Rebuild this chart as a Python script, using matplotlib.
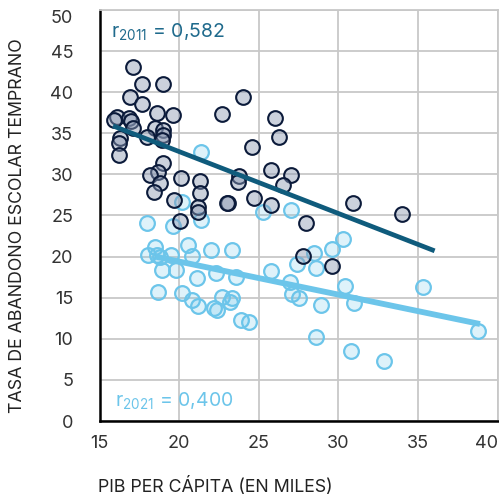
import matplotlib
matplotlib.use("Agg")
import matplotlib.pyplot as plt
import numpy as np

# PIB per capita (miles) vs tasa de abandono escolar temprano, 2011 y 2021
pib_2011 = [17.1, 17.7, 19.0, 16.9, 17.7, 18.6, 19.6, 16.1, 15.9, 16.85, 17.0, 17.1,
            18.5, 19.0, 19.0, 18.9, 18.0, 16.3, 16.2, 16.2, 19.0, 18.7, 18.2, 18.8,
            18.4, 20.1, 21.3, 21.3, 19.7, 21.2, 21.2, 20.05, 23.1, 23.0, 24.0, 22.7,
            26.0, 26.3, 24.6, 25.8, 27.0, 23.75, 23.7, 26.5, 24.7, 25.8, 30.9, 34.0,
            28.0, 27.8, 29.6]
abandono_2011 = [43.1, 41.0, 41.0, 39.4, 38.6, 37.5, 37.2, 37.0, 36.6, 36.9, 36.5, 35.6,
                 35.6, 35.4, 34.8, 34.2, 34.5, 34.4, 33.8, 32.4, 31.4, 30.3, 29.9, 29.0,
                 27.9, 29.6, 29.2, 27.7, 26.9, 26.0, 25.4, 24.3, 26.5, 26.5, 39.4, 37.3,
                 36.9, 34.5, 33.3, 30.5, 29.9, 29.8, 29.1, 28.7, 27.1, 26.3, 26.5, 25.2,
                 24.1, 20.1, 18.9]

pib_2021 = [21.4, 20.2, 25.3, 27.0, 18.0, 19.6, 21.4, 18.5, 18.05, 18.6, 18.8, 19.5,
            20.55, 20.8, 22.0, 23.3, 18.9, 19.8, 21.1, 22.3, 23.6, 18.7, 20.2, 20.8,
            21.2, 22.2, 22.4, 22.7, 23.3, 23.2, 23.9, 24.4, 30.3, 29.6, 28.5, 27.4,
            28.6, 25.75, 26.95, 30.4, 27.1, 27.5, 28.9, 31.0, 35.3, 38.8, 28.6, 30.8,
            32.9]
abandono_2021 = [32.7, 26.6, 25.4, 25.7, 24.1, 23.7, 24.4, 21.2, 20.2, 20.2, 20.0, 20.2,
                 21.4, 20.1, 20.8, 20.8, 18.4, 18.4, 17.4, 18.0, 17.5, 15.7, 15.6, 14.7,
                 14.0, 13.7, 13.5, 15.1, 15.0, 14.5, 12.3, 12.0, 22.1, 20.9, 20.4, 19.1,
                 18.6, 18.3, 16.9, 16.4, 15.5, 15.0, 14.1, 14.4, 16.3, 10.9, 10.2, 8.5,
                 7.3]

# lineas de tendencia (extremos)
tend_2011_x = [15.85, 36.05]
tend_2011_y = [35.9, 20.7]
tend_2021_x = [18.5, 38.9]
tend_2021_y = [20.0, 11.8]

r_2011 = "0,582"
r_2021 = "0,400"

DARK_EDGE = "#0b1a3a"
DARK_FACE = (0.55, 0.60, 0.70, 0.45)
LIGHT = "#6cc5ea"
LIGHT_FACE = (0.42, 0.77, 0.92, 0.22)
TEAL = "#0f5b7c"
TEAL_TXT = "#1f6a8c"

plt.rcParams["font.family"] = ["Inter", "DejaVu Sans"]
plt.rcParams["mathtext.fontset"] = "custom"
plt.rcParams["mathtext.rm"] = "Inter"

fig = plt.figure(figsize=(4.99, 5.01), dpi=100)
ax = fig.add_axes([99.5 / 499, 80 / 501, 398 / 499, 411 / 501])

ax.scatter(pib_2021, abandono_2021, s=112, facecolors=[LIGHT_FACE], edgecolors=LIGHT,
           linewidths=1.6, zorder=3)
ax.scatter(pib_2011, abandono_2011, s=112, facecolors=[DARK_FACE], edgecolors=DARK_EDGE,
           linewidths=1.5, zorder=4)
ax.plot(tend_2021_x, tend_2021_y, color=LIGHT, lw=4.2, solid_capstyle="butt", zorder=5)
ax.plot(tend_2011_x, tend_2011_y, color=TEAL, lw=3.4, solid_capstyle="butt", zorder=5)

ax.set_xlim(15, 40)
ax.set_ylim(0, 50)
ax.set_xticks(range(15, 41, 5))
ax.set_yticks(range(0, 51, 5))
ax.grid(True, color="#c8c8c8", lw=1.3)
ax.set_axisbelow(True)
ax.tick_params(length=0, labelsize=13, labelcolor="#333333")
ax.tick_params(axis="x", pad=10)
ax.tick_params(axis="y", pad=19)
for s in ("top", "right"):
    ax.spines[s].set_color("#c8c8c8")
    ax.spines[s].set_linewidth(1.3)
for s in ("left", "bottom"):
    ax.spines[s].set_color("black")
    ax.spines[s].set_linewidth(1.8)

# ultimo rotulo del eje x dentro de la figura, primero del eje y algo mas abajo
ax.get_xticklabels()[-1].set_ha("right")
ax.get_yticklabels()[-1].set_va("top")

ax.text(0.03, 0.945, r"$\mathregular{r_{2011}}$ = " + r_2011, transform=ax.transAxes,
        color=TEAL_TXT, fontsize=14, va="center", ha="left")
ax.text(0.04, 0.048, r"$\mathregular{r_{2021}}$ = " + r_2021, transform=ax.transAxes,
        color=LIGHT, fontsize=14, va="center", ha="left")

fig.text(98 / 499, 1 - 487 / 501, "PIB PER CÁPITA (EN MILES)", fontsize=12.8,
         color="#222222", ha="left", va="center")
fig.text(18 / 499, 1 - 226 / 501, "TASA DE ABANDONO ESCOLAR TEMPRANO", fontsize=12.8,
         color="#222222", ha="center", va="center", rotation=90)

fig.savefig("out.png", dpi=100)
